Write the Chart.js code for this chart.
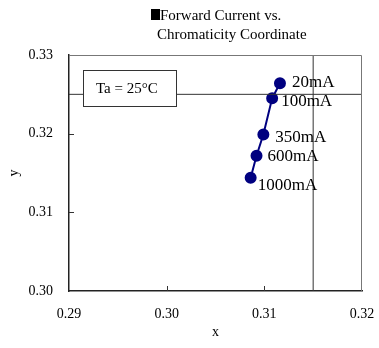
<!DOCTYPE html>
<html>
<head>
<meta charset="utf-8">
<script src="https://cdn.jsdelivr.net/npm/chart.js@4"></script>
<style>
  html, body { margin: 0; padding: 0; background: #fff; }
  #wrap { width: 379px; height: 348px; position: relative; }
</style>
</head>
<body>
<div id="wrap"><canvas id="chromaChart"></canvas></div>
<script>
const currents = ["20mA", "100mA", "350mA", "600mA", "1000mA"];
const xValues = [0.3116, 0.3108, 0.3099, 0.3092, 0.3086];
const yValues = [0.3264, 0.3245, 0.3199, 0.3172, 0.3144];
const xTicks = [0.29, 0.30, 0.31, 0.32];
const yTicks = [0.30, 0.31, 0.32, 0.33];
const refX = 0.315;
const refY = 0.325;

const SERIF = "'Liberation Serif', 'Times New Roman', serif";

// label nudges in px, [dx, dy] from the point
const labelShift = [[12, -1], [9, 3], [12, 3], [11, 1], [7, 8]];

const points = xValues.map((x, i) => ({ x: x, y: yValues[i] }));

const overlay = {
  id: "overlay",
  afterDatasetsDraw(chart) {
    const { ctx, chartArea: a, scales } = chart;
    ctx.save();

    // frame top/right
    ctx.strokeStyle = "#777";
    ctx.lineWidth = 1;
    ctx.beginPath();
    ctx.moveTo(a.left, a.top + 0.5);
    ctx.lineTo(a.right - 0.5, a.top + 0.5);
    ctx.lineTo(a.right - 0.5, a.bottom);
    ctx.stroke();

    // inward tick marks
    ctx.strokeStyle = "#333";
    ctx.beginPath();
    xTicks.slice(1, -1).forEach(v => {
      const px = Math.round(scales.x.getPixelForValue(v)) + 0.5;
      ctx.moveTo(px, a.bottom);
      ctx.lineTo(px, a.bottom - 5);
    });
    yTicks.slice(1, -1).forEach(v => {
      const py = Math.round(scales.y.getPixelForValue(v)) + 0.5;
      ctx.moveTo(a.left, py);
      ctx.lineTo(a.left + 5, py);
    });
    ctx.stroke();

    // Ta box
    ctx.fillStyle = "#fff";
    ctx.strokeStyle = "#333";
    ctx.fillRect(a.left + 14, a.top + 15, 93, 36);
    ctx.strokeRect(a.left + 14.5, a.top + 15.5, 93, 36);
    ctx.fillStyle = "#000";
    ctx.font = "15px " + SERIF;
    ctx.textBaseline = "middle";
    ctx.textAlign = "left";
    ctx.fillText("Ta = 25°C", a.left + 27, a.top + 34);

    // point labels
    ctx.font = "17px " + SERIF;
    currents.forEach((c, i) => {
      const px = scales.x.getPixelForValue(xValues[i]);
      const py = scales.y.getPixelForValue(yValues[i]);
      ctx.fillText(c, px + labelShift[i][0], py + labelShift[i][1]);
    });

    // title
    ctx.font = "15px " + SERIF;
    ctx.textAlign = "left";
    ctx.fillRect(151, 9, 9, 11);
    ctx.textBaseline = "alphabetic";
    ctx.fillText("Forward Current vs.", 160, 20);
    ctx.fillText("Chromaticity Coordinate", 157, 39);

    ctx.restore();
  }
};

new Chart(document.getElementById("chromaChart"), {
  type: "scatter",
  data: {
    datasets: [
      {
        label: "ref x",
        data: [{ x: refX, y: yTicks[0] }, { x: refX, y: yTicks[yTicks.length - 1] }],
        showLine: true,
        borderColor: "#333",
        borderWidth: 1,
        pointRadius: 0,
      },
      {
        label: "ref y",
        data: [{ x: xTicks[0], y: refY }, { x: xTicks[xTicks.length - 1], y: refY }],
        showLine: true,
        borderColor: "#333",
        borderWidth: 1,
        pointRadius: 0,
      },
      {
        label: "Chromaticity",
        data: points,
        showLine: true,
        borderColor: "#000080",
        backgroundColor: "#000080",
        borderWidth: 2,
        pointRadius: 5,
        pointHoverRadius: 5,
      },
    ],
  },
  options: {
    responsive: true,
    maintainAspectRatio: false,
    animation: false,
    layout: { padding: { top: 55, right: 17, left: 0, bottom: 0 } },
    plugins: {
      legend: { display: false },
      tooltip: { enabled: false },
    },
    scales: {
      x: {
        type: "linear",
        min: xTicks[0],
        max: xTicks[xTicks.length - 1],
        afterBuildTicks: (s) => { s.ticks = xTicks.map(v => ({ value: v })); },
        afterFit: (s) => { s.height = 57; s.paddingLeft = 0; s.paddingRight = 0; },
        grid: { display: false, drawTicks: false },
        border: { display: true, color: "#222", width: 1.5 },
        ticks: {
          color: "#000",
          padding: 15,
          font: { family: SERIF, size: 14 },
          callback: (v) => v.toFixed(2),
        },
        title: {
          display: true,
          text: "x",
          color: "#000",
          font: { family: SERIF, size: 14 },
          padding: { top: 0, bottom: 7 },
        },
      },
      y: {
        type: "linear",
        min: yTicks[0],
        max: yTicks[yTicks.length - 1],
        afterBuildTicks: (s) => { s.ticks = yTicks.map(v => ({ value: v })); },
        afterFit: (s) => { s.width = 69; s.paddingTop = 0; s.paddingBottom = 0; },
        grid: { display: false, drawTicks: false },
        border: { display: true, color: "#222", width: 1.5 },
        ticks: {
          color: "#000",
          padding: 16,
          font: { family: SERIF, size: 14 },
          callback: (v) => v.toFixed(2),
        },
        title: {
          display: true,
          text: "y",
          color: "#000",
          font: { family: SERIF, size: 14 },
          padding: { top: 6, bottom: 0 },
        },
      },
    },
  },
  plugins: [overlay],
});
</script>
</body>
</html>
